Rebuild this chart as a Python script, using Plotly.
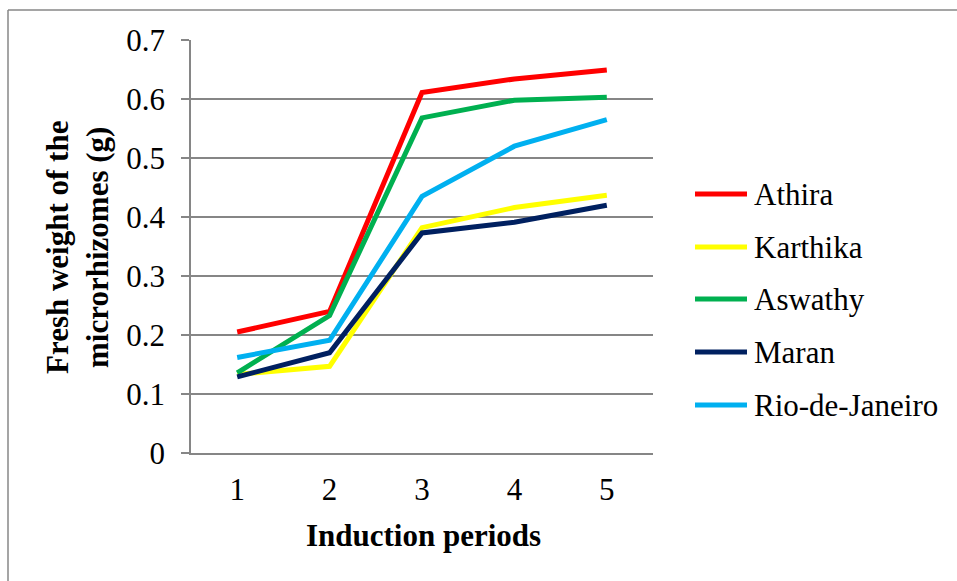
import plotly.graph_objects as go

# Induction periods (categories on the x axis)
periods = ["1", "2", "3", "4", "5"]

# Fresh weight of microrhizomes (g) per variety
athira = [0.205, 0.240, 0.611, 0.634, 0.649]
karthika = [0.133, 0.147, 0.382, 0.416, 0.437]
aswathy = [0.136, 0.233, 0.568, 0.598, 0.603]
maran = [0.129, 0.170, 0.373, 0.391, 0.420]
rio = [0.162, 0.191, 0.435, 0.520, 0.565]

series_names = ["Athira", "Karthika", "Aswathy", "Maran", "Rio-de-Janeiro"]
series_values = [athira, karthika, aswathy, maran, rio]
series_colors = ["#FF0000", "#FFFF00", "#00B050", "#002060", "#00B0F0"]

FONT = "Liberation Serif, Times New Roman, serif"
GRID = "#868686"

W, H = 957, 581
ML, MR, MT, MB = 191, 304, 40, 128
PW = W - ML - MR
PH = H - MT - MB


def px_to_paper_x(px):
    return (px - ML) / PW


def px_to_paper_y(py):
    return (H - MB - py) / PH


fig = go.Figure()
for name, vals, col in zip(series_names, series_values, series_colors):
    fig.add_trace(go.Scatter(
        x=periods, y=vals, mode="lines", name=name,
        line=dict(color=col, width=5),
        showlegend=False,
    ))

shapes = []
annotations = []

# Legend drawn as short line samples with labels
leg_y = [194, 247, 299, 352, 405]
for name, col, ly in zip(series_names, series_colors, leg_y):
    shapes.append(dict(
        type="line", xref="paper", yref="paper",
        x0=px_to_paper_x(695), x1=px_to_paper_x(747),
        y0=px_to_paper_y(ly), y1=px_to_paper_y(ly),
        line=dict(color=col, width=5),
    ))
    annotations.append(dict(
        text=name, xref="paper", yref="paper",
        x=px_to_paper_x(752), y=px_to_paper_y(ly),
        xanchor="left", yanchor="middle", showarrow=False,
        font=dict(family=FONT, size=31, color="black"),
    ))

# Chart frame (left and top edges)
shapes.append(dict(
    type="line", xref="paper", yref="paper",
    x0=px_to_paper_x(8), x1=px_to_paper_x(8),
    y0=px_to_paper_y(10), y1=px_to_paper_y(H + 5),
    line=dict(color="#878787", width=1.5),
))
shapes.append(dict(
    type="line", xref="paper", yref="paper",
    x0=px_to_paper_x(8), x1=px_to_paper_x(W + 5),
    y0=px_to_paper_y(10), y1=px_to_paper_y(10),
    line=dict(color="#878787", width=1.5),
))

# Axis titles
annotations.append(dict(
    text="<b>Fresh weight of the<br>microrhizomes (g)</b>",
    xref="paper", yref="paper",
    x=px_to_paper_x(78), y=px_to_paper_y(248),
    xanchor="center", yanchor="middle", textangle=-90, showarrow=False,
    font=dict(family=FONT, size=31, color="black"),
))
annotations.append(dict(
    text="<b>Induction periods</b>",
    xref="paper", yref="paper",
    x=px_to_paper_x(423), y=px_to_paper_y(535),
    xanchor="center", yanchor="middle", showarrow=False,
    font=dict(family=FONT, size=31, color="black"),
))

fig.update_layout(
    width=W, height=H,
    margin=dict(l=ML, r=MR, t=MT, b=MB, pad=0),
    paper_bgcolor="white", plot_bgcolor="white",
    shapes=shapes, annotations=annotations,
    font=dict(family=FONT, size=31, color="black"),
)
fig.update_xaxes(
    type="category", range=[-0.5, 4.5],
    showgrid=False, showline=True, linecolor=GRID, linewidth=1.5,
    ticks="", tickfont=dict(family=FONT, size=31, color="black"),
    ticklabelstandoff=8,
)
fig.update_yaxes(
    range=[0, 0.7], tickvals=[0, 0.1, 0.2, 0.3, 0.4, 0.5, 0.6, 0.7],
    ticktext=["0", "0.1", "0.2", "0.3", "0.4", "0.5", "0.6", "0.7"],
    showgrid=True, gridcolor=GRID, gridwidth=1.5,
    showline=True, linecolor=GRID, linewidth=1.5,
    ticks="outside", ticklen=8, tickcolor=GRID, tickwidth=1.5,
    tickfont=dict(family=FONT, size=31, color="black"),
    ticklabelstandoff=10, zeroline=False,
)

fig.write_html("out.html")
